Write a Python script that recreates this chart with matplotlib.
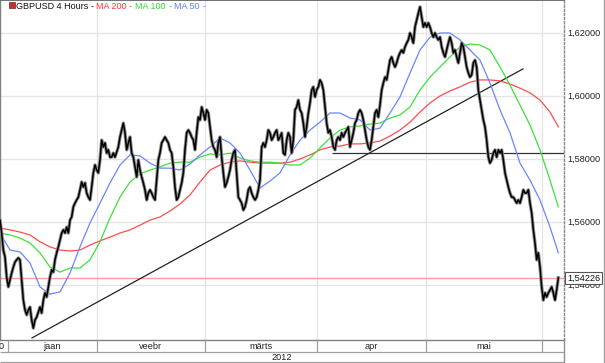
import matplotlib
matplotlib.use('Agg')
import matplotlib.pyplot as plt
from matplotlib.lines import Line2D
from matplotlib.patches import Rectangle

plt.rcParams['font.family'] = ['Liberation Sans', 'DejaVu Sans']

# ---------------- data (GBPUSD 4 Hours, sampled closes) ----------------
close = [
    1.5606, 1.5565, 1.5511, 1.5489, 1.5425, 1.5394, 1.5416, 1.5438, 1.5457, 1.5473,
    1.5480, 1.5486, 1.5480, 1.5416, 1.5352, 1.5321, 1.5305, 1.5321, 1.5330, 1.5289,
    1.5263, 1.5289, 1.5298, 1.5314, 1.5330, 1.5311, 1.5352, 1.5375, 1.5362, 1.5394,
    1.5425, 1.5448, 1.5441, 1.5480, 1.5502, 1.5521, 1.5543, 1.5565, 1.5575, 1.5565,
    1.5584, 1.5565, 1.5606, 1.5616, 1.5648, 1.5660, 1.5670, 1.5679, 1.5702, 1.5727,
    1.5711, 1.5724, 1.5692, 1.5679, 1.5670, 1.5711, 1.5756, 1.5781, 1.5765, 1.5756,
    1.5797, 1.5860, 1.5838, 1.5851, 1.5819, 1.5829, 1.5806, 1.5806, 1.5819, 1.5806,
    1.5822, 1.5838, 1.5870, 1.5892, 1.5914, 1.5883, 1.5829, 1.5851, 1.5870, 1.5819,
    1.5806, 1.5775, 1.5743, 1.5797, 1.5765, 1.5743, 1.5724, 1.5702, 1.5670, 1.5692,
    1.5702, 1.5692, 1.5679, 1.5670, 1.5733, 1.5797, 1.5819, 1.5851, 1.5860, 1.5870,
    1.5860, 1.5851, 1.5829, 1.5819, 1.5775, 1.5711, 1.5670, 1.5679, 1.5702, 1.5724,
    1.5756, 1.5829, 1.5883, 1.5892, 1.5883, 1.5870, 1.5860, 1.5829, 1.5883, 1.5933,
    1.5924, 1.5965, 1.5946, 1.5924, 1.5956, 1.5946, 1.5902, 1.5860, 1.5838, 1.5829,
    1.5806, 1.5851, 1.5870, 1.5806, 1.5756, 1.5711, 1.5724, 1.5743, 1.5765, 1.5797,
    1.5819, 1.5829, 1.5756, 1.5679, 1.5670, 1.5660, 1.5638, 1.5648, 1.5670, 1.5702,
    1.5711, 1.5692, 1.5679, 1.5670, 1.5679, 1.5702, 1.5733, 1.5838, 1.5851, 1.5838,
    1.5860, 1.5892, 1.5883, 1.5860, 1.5870, 1.5883, 1.5892, 1.5860, 1.5870, 1.5883,
    1.5819, 1.5813, 1.5860, 1.5883, 1.5870, 1.5819, 1.5860, 1.5956, 1.5965, 1.5987,
    1.5956, 1.5946, 1.5914, 1.5870, 1.5902, 1.5946, 1.5978, 1.6019, 1.6029, 1.5997,
    1.6019, 1.6029, 1.6051, 1.6041, 1.6019, 1.5965, 1.5914, 1.5883, 1.5892, 1.5870,
    1.5838, 1.5829, 1.5860, 1.5870, 1.5860, 1.5883, 1.5870, 1.5883, 1.5892, 1.5902,
    1.5838, 1.5860, 1.5883, 1.5914, 1.5924, 1.5946, 1.5956, 1.5946, 1.5924, 1.5892,
    1.5860, 1.5838, 1.5829, 1.5860, 1.5902, 1.5946, 1.5956, 1.5933, 1.5971, 1.6019,
    1.6041, 1.6060, 1.6051, 1.6083, 1.6114, 1.6124, 1.6105, 1.6092, 1.6105, 1.6124,
    1.6137, 1.6146, 1.6137, 1.6156, 1.6168, 1.6178, 1.6200, 1.6187, 1.6168, 1.6219,
    1.6241, 1.6263, 1.6283, 1.6251, 1.6219, 1.6232, 1.6219, 1.6232, 1.6219, 1.6200,
    1.6187, 1.6200, 1.6187, 1.6178, 1.6187, 1.6156, 1.6137, 1.6124, 1.6146, 1.6168,
    1.6187, 1.6168, 1.6137, 1.6146, 1.6124, 1.6105, 1.6137, 1.6168, 1.6156, 1.6124,
    1.6092, 1.6073, 1.6060, 1.6067, 1.6105, 1.6114, 1.6092, 1.6019, 1.5987, 1.5956,
    1.5924, 1.5902, 1.5860, 1.5806, 1.5787, 1.5797, 1.5819, 1.5829, 1.5806, 1.5829,
    1.5819, 1.5829, 1.5797, 1.5756, 1.5733, 1.5711, 1.5692, 1.5679, 1.5679, 1.5670,
    1.5660, 1.5670, 1.5660, 1.5679, 1.5702, 1.5692, 1.5692, 1.5702, 1.5660, 1.5629,
    1.5575, 1.5533, 1.5480, 1.5502, 1.5457, 1.5394, 1.5352, 1.5375, 1.5362, 1.5375,
    1.5384, 1.5394, 1.5375, 1.5352, 1.5384, 1.5423,
]

# moving averages, sampled every 6th sample of the price series
ma_idx = list(range(0, 331, 6)) + [335]
ma200 = [
    1.5581, 1.5575, 1.5568, 1.5559, 1.5537, 1.5521, 1.5511, 1.5508, 1.5511, 1.5527,
    1.5540, 1.5552, 1.5565, 1.5575, 1.5590, 1.5606, 1.5616, 1.5635, 1.5657, 1.5686,
    1.5727, 1.5765, 1.5781, 1.5790, 1.5794, 1.5790, 1.5787, 1.5787, 1.5787, 1.5790,
    1.5800, 1.5813, 1.5829, 1.5838, 1.5841, 1.5848, 1.5848, 1.5851, 1.5857, 1.5873,
    1.5892, 1.5917, 1.5949, 1.5978, 1.6000, 1.6016, 1.6029, 1.6044, 1.6051, 1.6051,
    1.6048, 1.6038, 1.6025, 1.6010, 1.5987, 1.5949, 1.5902,
]
ma100 = [
    1.5565, 1.5559, 1.5549, 1.5533, 1.5502, 1.5457, 1.5441, 1.5454, 1.5454, 1.5480,
    1.5537, 1.5613, 1.5679, 1.5727, 1.5753, 1.5765, 1.5775, 1.5787, 1.5790, 1.5790,
    1.5806, 1.5816, 1.5813, 1.5819, 1.5803, 1.5794, 1.5790, 1.5790, 1.5787, 1.5781,
    1.5781, 1.5803, 1.5835, 1.5867, 1.5892, 1.5902, 1.5905, 1.5911, 1.5914, 1.5930,
    1.5940, 1.5965, 1.6019, 1.6060, 1.6092, 1.6124, 1.6156, 1.6165, 1.6162, 1.6146,
    1.6092, 1.6035, 1.5971, 1.5908, 1.5829, 1.5733, 1.5648,
]
ma50 = [
    1.5565, 1.5511, 1.5505, 1.5470, 1.5394, 1.5371, 1.5378, 1.5438, 1.5521, 1.5597,
    1.5660, 1.5724, 1.5781, 1.5813, 1.5810, 1.5787, 1.5771, 1.5771, 1.5765, 1.5784,
    1.5813, 1.5838, 1.5867, 1.5851, 1.5819, 1.5765, 1.5708, 1.5730, 1.5756, 1.5813,
    1.5860, 1.5892, 1.5917, 1.5946, 1.5946, 1.5930, 1.5924, 1.5892, 1.5898, 1.5946,
    1.5997, 1.6073, 1.6146, 1.6187, 1.6200, 1.6200, 1.6178, 1.6146, 1.6114, 1.6041,
    1.5956, 1.5883, 1.5787, 1.5733, 1.5670, 1.5584, 1.5502,
]

trend_idx = [19.2, 313.8]
trend_val = [1.5232, 1.6086]
support_level = 1.5818
support_start = 199
last_price = 1.54226
price_ticks = [1.54, 1.56, 1.58, 1.60, 1.62]
month_labels = ['jaan', 'veebr', 'märts', 'apr', 'mai']
month_starts = [4.6, 58.2, 122.7, 189.9, 255.6, 325.2]
year_label = '2012'

# ---------------- figure ----------------
W, H = 605, 363
fig = plt.figure(figsize=(W / 100, H / 100), dpi=100)
fig.patch.set_facecolor('white')

XMAX = 338.4
ax = fig.add_axes([0, 23 / H, 564 / W, 340 / H])
ax.set_xlim(0, XMAX)
ax.set_ylim(1.52254, 1.63048)
ax.set_xticks([])
ax.set_yticks([])
ax.set_facecolor('white')

for p in price_ticks:
    ax.axhline(p, color='#e4e4e4', lw=0.9, zorder=0)
for m in month_starts[1:]:
    ax.axvline(m, color='#e4e4e4', lw=0.9, zorder=0)

ax.axhline(last_price, color='#ff9c9c', lw=1.0, zorder=1)
ax.hlines(support_level, support_start, XMAX, color='#333333', lw=0.9, zorder=2)
ax.plot(trend_idx, trend_val, color='#222222', lw=0.9, zorder=2)

ax.plot(ma_idx, ma200, color='#ff4c4c', lw=0.9, zorder=3)
ax.plot(ma_idx, ma100, color='#3de03d', lw=0.9, zorder=3)
ax.plot(ma_idx, ma50, color='#6a86ff', lw=0.9, zorder=3)

xs = list(range(len(close)))
ax.plot(xs, close, color='#8c8c8c', lw=2.4, zorder=4)
ax.plot(xs, close, color='black', lw=1.1, zorder=5)

for name, sp in ax.spines.items():
    sp.set_color('#808080')
    sp.set_linewidth(1.0)
ax.spines['top'].set_color('#707070')
ax.spines['top'].set_linewidth(1.4)
ax.spines['right'].set_linestyle((0, (1.5, 1.5)))
ax.spines['right'].set_color('#8a8a8a')

ytr = ax.get_yaxis_transform()
for p in price_ticks:
    ax.text(1 + 3 / 564, p, f"{p:.5f}".replace('.', ','), transform=ytr,
            ha='left', va='center', fontsize=6.6, color='#222222', clip_on=False, zorder=6)
ax.text(1 + 3 / 564, last_price, f"{last_price:.5f}".replace('.', ','), transform=ytr,
        ha='left', va='center', fontsize=6.6, color='#111111', clip_on=False, zorder=7,
        bbox=dict(boxstyle='square,pad=0.18', fc='white', ec='#555555', lw=0.8))

# legend text
fig.add_artist(Rectangle((9 / W, 1 - 8 / H), 6 / W, 6 / H, transform=fig.transFigure,
                         fc='#c03030', ec='#802020', lw=0.5))
legend_parts = [
    (16.5, 'GBPUSD 4 Hours', '#111111'),
    (90.5, '-', '#111111'),
    (96, 'MA 200', '#ff3b3b'),
    (128.5, '-', '#ff3b3b'),
    (135, 'MA 100', '#33dd33'),
    (168.5, '-', '#33dd33'),
    (174.3, 'MA 50', '#5c7dff'),
    (203, '-', '#5c7dff'),
]
for px, txt, col in legend_parts:
    fig.text(px / W, 1 - 6.3 / H, txt, ha='left', va='center', fontsize=6.5, color=col)

# date axis area
axd = fig.add_axes([0, 0, 564 / W, 23 / H])
axd.set_xlim(0, XMAX)
axd.set_ylim(23, 0)
axd.axis('off')
axd.hlines([12.0, 22.4], 0, XMAX, color='#a0a0a0', lw=0.9)
axd.vlines(month_starts, 0, 12, color='#a0a0a0', lw=0.9)
centers = [(a + b) / 2 for a, b in zip(month_starts[:-1], month_starts[1:])]
for c, lab in zip(centers, month_labels):
    axd.text(c, 6.2, lab, ha='center', va='center', fontsize=6.6, color='#222222')
axd.text(XMAX / 2, 17.3, year_label, ha='center', va='center', fontsize=6.6, color='#222222')
axd.text(2.2, 6.2, '0', ha='right', va='center', fontsize=6.6, color='#222222', clip_on=False)

fig.add_artist(Line2D([564 / W, 564 / W], [0, 23 / H], color='#909090', lw=1.0))
fig.add_artist(Line2D([603.5 / W, 603.5 / W], [0, 1], color='#a0a0a0', lw=1.0))

fig.savefig('out.png', dpi=100, facecolor='white')
